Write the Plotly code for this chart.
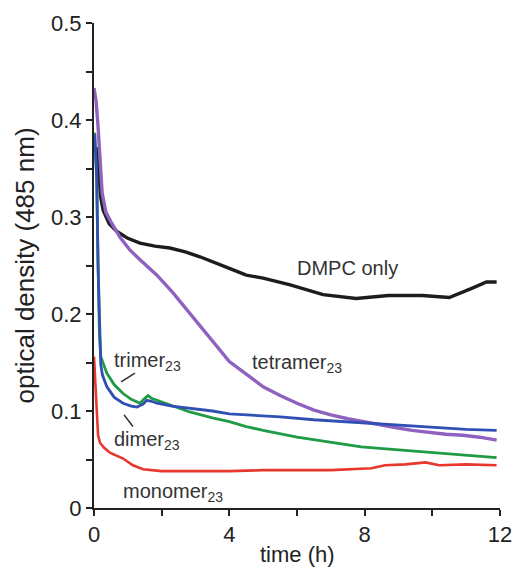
import plotly.graph_objects as go

# DMPC only (black)
t_dmpc = [0.08, 0.15, 0.2, 0.27, 0.45, 0.68, 1.0, 1.36, 1.8, 2.24, 2.7, 3.13, 3.6, 4.0, 4.5, 5.0, 5.8, 6.77, 7.75, 8.7, 9.7, 10.5, 11.2, 11.6, 11.9]
y_dmpc = [0.372, 0.340, 0.320, 0.307, 0.293, 0.285, 0.278, 0.273, 0.270, 0.268, 0.264, 0.259, 0.253, 0.247, 0.240, 0.237, 0.230, 0.220, 0.216, 0.219, 0.219, 0.217, 0.227, 0.233, 0.233]

# tetramer23 (purple)
t_tet = [0.0, 0.06, 0.12, 0.18, 0.24, 0.35, 0.5, 0.77, 1.06, 1.36, 1.86, 2.33, 2.83, 3.3, 3.8, 4.0, 4.5, 5.0, 5.5, 6.0, 6.5, 7.0, 7.5, 7.94, 8.4, 8.9, 9.4, 9.9, 10.4, 10.9, 11.4, 11.9]
y_tet = [0.433, 0.420, 0.393, 0.352, 0.325, 0.305, 0.295, 0.279, 0.266, 0.256, 0.240, 0.222, 0.201, 0.180, 0.160, 0.151, 0.138, 0.125, 0.116, 0.108, 0.101, 0.096, 0.092, 0.089, 0.086, 0.083, 0.080, 0.078, 0.076, 0.075, 0.073, 0.070]

# trimer23 (green)
t_tri = [0.02, 0.08, 0.12, 0.16, 0.2, 0.3, 0.38, 0.6, 0.86, 1.1, 1.36, 1.5, 1.6, 1.7, 1.86, 2.3, 2.83, 3.5, 4.0, 4.5, 5.0, 6.0, 7.0, 7.9, 9.0, 10.2, 11.0, 11.9]
y_tri = [0.387, 0.340, 0.250, 0.180, 0.156, 0.146, 0.139, 0.127, 0.118, 0.112, 0.108, 0.113, 0.116, 0.113, 0.111, 0.105, 0.099, 0.093, 0.089, 0.084, 0.080, 0.073, 0.068, 0.063, 0.060, 0.057, 0.055, 0.052]

# dimer23 (blue)
t_dim = [0.02, 0.08, 0.12, 0.16, 0.2, 0.25, 0.38, 0.6, 0.86, 1.1, 1.27, 1.45, 1.56, 1.7, 1.86, 2.3, 2.83, 3.5, 4.0, 4.5, 5.5, 6.5, 7.9, 9.0, 10.0, 11.0, 11.9]
y_dim = [0.385, 0.340, 0.250, 0.180, 0.148, 0.137, 0.125, 0.114, 0.108, 0.105, 0.104, 0.107, 0.111, 0.110, 0.108, 0.105, 0.103, 0.100, 0.097, 0.096, 0.094, 0.091, 0.088, 0.085, 0.083, 0.081, 0.080]

# monomer23 (red)
t_mon = [0.0, 0.04, 0.08, 0.12, 0.18, 0.3, 0.47, 0.86, 1.15, 1.45, 2.0, 3.0, 4.0, 5.0, 6.0, 7.0, 8.2, 8.6, 9.2, 9.8, 10.2, 11.0, 11.9]
y_mon = [0.156, 0.130, 0.090, 0.075, 0.067, 0.062, 0.057, 0.051, 0.044, 0.040, 0.038, 0.038, 0.038, 0.039, 0.039, 0.039, 0.041, 0.044, 0.045, 0.047, 0.044, 0.045, 0.044]

x_ticks = [0, 4, 8, 12]
y_ticks = [0, 0.1, 0.2, 0.3, 0.4, 0.5]
y_tick_text = ["0", "0.1", "0.2", "0.3", "0.4", "0.5"]

FONT = "Liberation Sans, Arial, sans-serif"

fig = go.Figure()
series = [
    (t_dmpc, y_dmpc, "#1c1c1c", 3.4),
    (t_tet, y_tet, "#8f62c0", 3.4),
    (t_tri, y_tri, "#1f9a45", 2.8),
    (t_dim, y_dim, "#3050b4", 2.8),
    (t_mon, y_mon, "#e8372c", 2.6),
]
for t, y, c, w in series:
    fig.add_trace(go.Scatter(x=t, y=y, mode="lines", line=dict(color=c, width=w), showlegend=False, hoverinfo="skip"))

lab_font = dict(family=FONT, size=20, color="#333333")
labels = [
    (7.48, 0.247, "DMPC only", "center"),
    (4.61, 0.149, "tetramer<sub>23</sub>", "left"),
    (0.53, 0.1515, "trimer<sub>23</sub>", "left"),
    (0.53, 0.070, "dimer<sub>23</sub>", "left"),
    (0.80, 0.0155, "monomer<sub>23</sub>", "left"),
]
for x, y, txt, anc in labels:
    fig.add_annotation(x=x, y=y, text=txt, showarrow=False, xanchor=anc, yanchor="middle", font=lab_font)

# pointer lines
fig.add_shape(type="line", x0=0.80, y0=0.130, x1=1.21, y1=0.139, line=dict(color="#333333", width=1.6))
fig.add_shape(type="line", x0=0.89, y0=0.096, x1=1.15, y1=0.084, line=dict(color="#333333", width=1.6))

# axis titles
fig.add_annotation(xref="paper", yref="paper", x=-0.170, y=0.5, text="optical density (485 nm)",
                   textangle=-90, showarrow=False, xanchor="center", yanchor="middle", borderpad=0,
                   font=dict(family=FONT, size=26, color="#222222"))
fig.add_annotation(xref="paper", yref="paper", x=0.5, y=-0.124, text="time (h)",
                   showarrow=False, xanchor="center", yanchor="bottom", borderpad=0,
                   font=dict(family=FONT, size=22, color="#222222"))

axis_font = dict(family=FONT, size=22, color="#222222")
fig.update_layout(
    width=517, height=569,
    margin=dict(l=94, r=17, t=23, b=61),
    paper_bgcolor="white", plot_bgcolor="white",
    xaxis=dict(range=[0, 12], tickmode="array", tickvals=x_ticks, ticktext=[str(v) for v in x_ticks],
               ticks="outside", ticklen=6, tickwidth=1.6, tickcolor="#222",
               showline=True, linecolor="#222", linewidth=2, showgrid=False, zeroline=False,
               minor=dict(dtick=2, ticks="outside", ticklen=6, tickwidth=1.6, tickcolor="#222", showgrid=False),
               tickfont=axis_font, automargin=False),
    yaxis=dict(range=[0, 0.5], tickmode="array", tickvals=y_ticks, ticktext=y_tick_text,
               ticks="outside", ticklen=6, tickwidth=1.6, tickcolor="#222",
               showline=True, linecolor="#222", linewidth=2, showgrid=False, zeroline=False,
               minor=dict(dtick=0.05, ticks="outside", ticklen=6, tickwidth=1.6, tickcolor="#222", showgrid=False),
               tickfont=axis_font, automargin=False),
)
fig.write_html("out.html")
